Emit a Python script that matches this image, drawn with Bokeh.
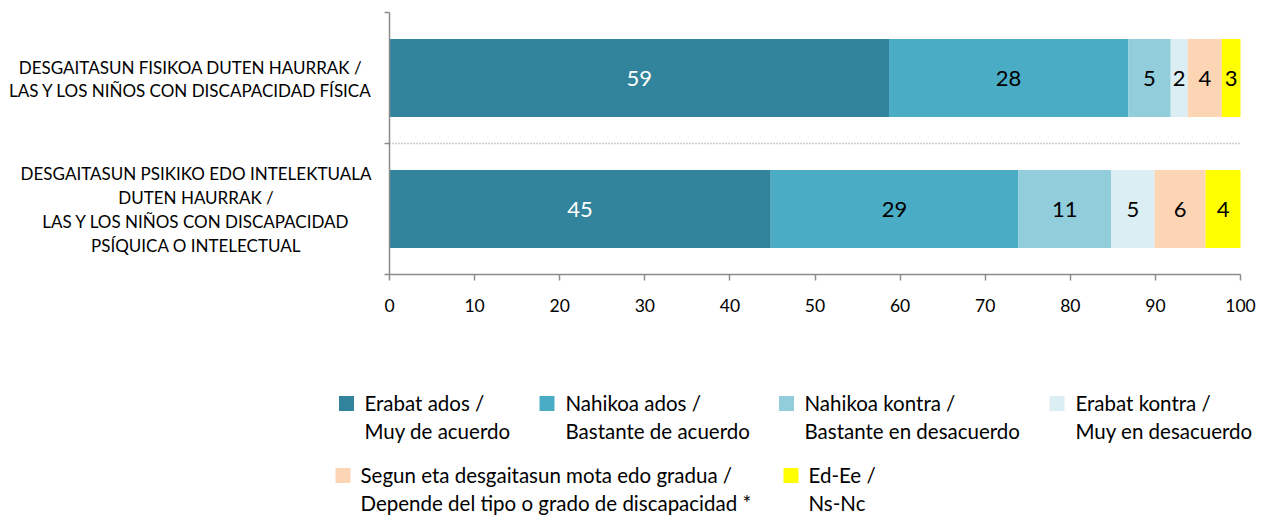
from bokeh.plotting import figure
from bokeh.models import Range1d, FixedTicker, LinearAxis, ColumnDataSource
from bokeh.core.properties import value
from bokeh.embed import file_html
from bokeh.resources import INLINE

FONT = "Lato"

categories = [
    ["DESGAITASUN FISIKOA DUTEN HAURRAK /", "LAS Y LOS NIÑOS CON DISCAPACIDAD FÍSICA"],
    ["DESGAITASUN PSIKIKO EDO INTELEKTUALA", "DUTEN HAURRAK /",
     "LAS Y LOS NIÑOS CON DISCAPACIDAD", "PSÍQUICA O INTELECTUAL"],
]
series = [
    ["Erabat ados /", "Muy de acuerdo"],
    ["Nahikoa ados /", "Bastante de acuerdo"],
    ["Nahikoa kontra /", "Bastante en desacuerdo"],
    ["Erabat kontra /", "Muy en desacuerdo"],
    ["Segun eta desgaitasun mota edo gradua /", "Depende del tipo o grado de discapacidad *"],
    ["Ed-Ee /", "Ns-Nc"],
]
colors = ["#31849B", "#4BACC6", "#92CDDC", "#DAEEF3", "#FCD5B5", "#FFFF00"]
label_colors = ["#FFFFFF", "#000000", "#000000", "#000000", "#000000", "#000000"]
values_fisica = [58.7, 28.1, 5.0, 2.0, 4.0, 2.2]
labels_fisica = ["59", "28", "5", "2", "4", "3"]
values_psiquica = [44.8, 29.1, 10.9, 5.1, 6.0, 4.1]
labels_psiquica = ["45", "29", "11", "5", "6", "4"]
x_ticks = [0, 10, 20, 30, 40, 50, 60, 70, 80, 90, 100]

W, H = 1270, 516
PL, PR, PT, PB = 389, 1240, 12, 274   # plot-area edges in page pixels
xs = (PR - PL) / 100.0                 # px per x unit
ys = (PB - PT) / 2.0                   # px per category band

p = figure(width=W, height=H, output_backend="svg", toolbar_location=None,
           x_axis_location=None, y_axis_location=None,
           x_range=Range1d(-PL / xs, 100 + (W - PR) / xs),
           y_range=Range1d(-(H - PB) / ys, 2 + PT / ys),
           min_border_left=0, min_border_right=0, min_border_top=0,
           min_border_bottom=0)
p.extra_x_ranges = {"px": Range1d(0, W)}
p.extra_y_ranges = {"px": Range1d(H, 0)}
p.outline_line_color = None
p.grid.visible = False

# bars
ypos = [1.5, 0.5]
rows = [(values_fisica, labels_fisica), (values_psiquica, labels_psiquica)]
bar_h = 0.595
for ri, (vals, labs) in enumerate(rows):
    left = 0.0
    lefts, rights, mids = [], [], []
    for v in vals:
        lefts.append(left)
        rights.append(left + v)
        mids.append(left + v / 2)
        left += v
    src = ColumnDataSource(dict(left=lefts, right=rights, mid=mids,
                                y=[ypos[ri]] * len(vals), color=colors,
                                lab=labs, tcolor=label_colors))
    p.hbar(y="y", left="left", right="right", height=bar_h, fill_color="color",
           line_color=None, source=src)
    p.text(x="mid", y="y", text="lab", text_color="tcolor", text_align="center",
           text_baseline="middle", text_font=value(FONT), text_font_size="22px",
           source=src)

# dotted separator between the two categories
p.segment(x0=[0], y0=[1], x1=[100], y1=[1], line_color="#9a9a9a",
          line_dash="1 2", line_width=1.5)

# axes
xa = LinearAxis(fixed_location=0, bounds=(0, 100))
xa.ticker = FixedTicker(ticks=x_ticks)
xa.axis_line_color = "#8c8c8c"
xa.axis_line_width = 1.5
xa.major_tick_line_color = "#8c8c8c"
xa.major_tick_line_width = 1.5
xa.major_tick_in = 0
xa.major_tick_out = 6
xa.minor_tick_line_color = None
xa.major_label_text_font = FONT
xa.major_label_text_font_size = "17.5px"
xa.major_label_text_color = "#000000"
xa.major_label_standoff = 18
p.add_layout(xa, "below")

ya = LinearAxis(fixed_location=0, bounds=(0, 2))
ya.ticker = FixedTicker(ticks=[0, 1, 2])
ya.major_label_overrides = {0: " ", 1: " ", 2: " "}
ya.axis_line_color = "#8c8c8c"
ya.axis_line_width = 1.5
ya.major_tick_line_color = "#8c8c8c"
ya.major_tick_line_width = 1.5
ya.major_tick_in = 0
ya.major_tick_out = 5
ya.minor_tick_line_color = None
p.add_layout(ya, "left")

# category labels (page-pixel coordinates via the "px" ranges)
cat_cx = [190, 195.5]
cat_base = [[67, 90], [173, 197, 221, 245]]
cx, cy, ct = [], [], []
for ci, lines in enumerate(categories):
    for li, t in enumerate(lines):
        cx.append(cat_cx[ci]); cy.append(cat_base[ci][li]); ct.append(t)
p.text(x=cx, y=cy, text=ct, x_range_name="px", y_range_name="px",
       text_align="center", text_baseline="alphabetic", text_font=value(FONT),
       text_font_size="17px", text_color="#000000")

# legend
sq_cx = [346, 546.5, 786, 1056.5, 342.5, 790.5]
tx = [364, 565, 804, 1075, 360, 808]
sq_cy = [403, 403, 403, 403, 475, 475]
sq = 15
p.rect(x=sq_cx, y=sq_cy, width=sq, height=sq,
       x_range_name="px", y_range_name="px", fill_color=colors, line_color=None)
lx, ly, lt = [], [], []
for i, (l1, l2) in enumerate(series):
    for j, t in enumerate([l1, l2]):
        lx.append(tx[i]); ly.append(sq_cy[i] - 1 + 28 * j); lt.append(t)
p.text(x=lx, y=ly, text=lt, x_range_name="px", y_range_name="px",
       text_align="left", text_baseline="alphabetic", text_font=value(FONT),
       text_font_size="20.5px", text_color="#000000")

open("out.html", "w").write(file_html(p, INLINE))
